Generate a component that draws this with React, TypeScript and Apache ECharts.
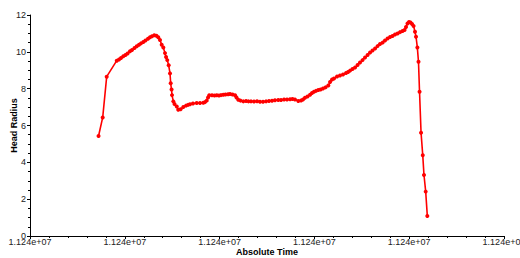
import React, { useEffect, useRef } from "react";
import * as echarts from "echarts";

const baseTime = 11239800;
const timeOffsets = [
  72.3, 76.7, 80.9, 91.5, 93.9, 96.0, 98.4, 100.7, 102.9, 105.5, 107.6, 110.2, 112.6, 115.0, 117.1, 119.5,
  121.8, 124.5, 126.6, 128.7, 131.1, 133.4, 135.3, 137.1, 138.9, 140.6, 142.4, 143.5, 144.8, 146.3, 147.7,
  148.4, 149.3, 149.8, 151.2, 152.4, 154.8, 156.4, 158.8, 161.7, 164.6, 166.7, 168.8, 171.9, 175.8, 179.3,
  182.8, 184.6, 186.4, 187.8, 189.1, 192.0, 194.6, 197.0, 199.4, 201.5, 203.9, 206.2, 208.9, 211.0, 213.6,
  216.3, 217.8, 219.7, 222.1, 225.0, 227.9, 230.5, 233.1, 236.3, 239.5, 242.6, 245.8, 249.0, 252.1, 255.3,
  258.4, 261.9, 264.8, 268.0, 271.1, 274.3, 276.9, 279.5, 283.0, 285.9, 288.0, 290.1, 292.7, 295.4, 297.5,
  299.6, 301.7, 304.1, 306.5, 309.1, 311.7, 314.7, 316.5, 318.6, 320.7, 323.9, 327.0, 330.2, 333.4, 335.5,
  337.6, 340.2, 342.9, 345.5, 348.1, 350.8, 353.4, 356.1, 358.7, 361.3, 364.0, 366.6, 369.2, 371.9, 374.5,
  377.2, 379.8, 382.4, 385.0, 387.7, 390.3, 393.0, 395.1, 396.6, 398.2, 399.8, 401.4, 403.0, 404.6, 406.1,
  407.2, 408.6, 409.8, 410.9, 412.5, 414.3, 415.6, 417.4, 419.1,
];
const headRadius = [
  5.43, 6.44, 8.65, 9.52, 9.58, 9.66, 9.76, 9.83, 9.91, 10.03, 10.10, 10.21, 10.30, 10.38, 10.46, 10.53,
  10.61, 10.71, 10.79, 10.85, 10.90, 10.87, 10.79, 10.64, 10.39, 10.23, 9.93, 9.72, 9.55, 9.27, 8.83,
  8.29, 7.95, 7.65, 7.31, 7.17, 7.03, 6.86, 6.88, 7.01, 7.08, 7.12, 7.15, 7.19, 7.22, 7.22,
  7.24, 7.27, 7.35, 7.52, 7.64, 7.64, 7.63, 7.64, 7.63, 7.65, 7.67, 7.68, 7.70, 7.71, 7.68,
  7.64, 7.52, 7.40, 7.35, 7.31, 7.33, 7.31, 7.31, 7.30, 7.32, 7.29, 7.29, 7.31, 7.33, 7.34,
  7.37, 7.38, 7.38, 7.41, 7.41, 7.42, 7.44, 7.41, 7.33, 7.36, 7.41, 7.51, 7.58, 7.67, 7.76,
  7.83, 7.88, 7.93, 7.95, 8.01, 8.07, 8.17, 8.36, 8.50, 8.55, 8.66, 8.71, 8.77, 8.85, 8.90,
  8.98, 9.07, 9.15, 9.28, 9.42, 9.55, 9.69, 9.83, 9.96, 10.07, 10.18, 10.31, 10.42, 10.50, 10.61,
  10.72, 10.80, 10.86, 10.94, 11.00, 11.07, 11.13, 11.18, 11.35, 11.54, 11.62, 11.59, 11.51, 11.40, 11.09,
  10.82, 10.23, 9.46, 7.83, 5.61, 4.38, 3.31, 2.41, 1.09,
];

const FONT = "Liberation Sans, Arial, sans-serif";

export default function App() {
  const ref = useRef<HTMLDivElement>(null);
  useEffect(() => {
    if (!ref.current) return;
    const chart = echarts.init(ref.current, undefined, { renderer: "svg" });
    const data = timeOffsets.map((o, i) => [baseTime + o, headRadius[i]]);
    const fmt = (v: number) => v.toExponential(3).replace(/e\+(\d)$/, "e+0$1");
    chart.setOption({
      animation: false,
      backgroundColor: "#ffffff",
      grid: { left: 30, right: 16, top: 15, bottom: 22, containLabel: false, outerBoundsMode: "none" },
      xAxis: {
        type: "value",
        min: baseTime,
        max: baseTime + 500,
        interval: 100,
        name: "Absolute Time",
        nameLocation: "middle",
        nameGap: 11,
        nameMoveOverlap: false,
        nameTextStyle: { fontFamily: FONT, fontSize: 9, fontWeight: "bold", color: "#000", verticalAlign: "top" },
        axisLine: { show: true, onZero: false, lineStyle: { color: "#000", width: 1 } },
        axisTick: { show: true, inside: false, length: 3, lineStyle: { color: "#000" } },
        minorTick: { show: true, splitNumber: 5, length: 2, lineStyle: { color: "#000" } },
        splitLine: { show: false },
        axisLabel: { fontFamily: FONT, fontSize: 9, color: "#222", margin: 1, formatter: fmt, showMaxLabel: true, hideOverlap: false },
      },
      yAxis: {
        type: "value",
        min: 0,
        max: 12,
        interval: 2,
        name: "Head Radius",
        nameLocation: "middle",
        nameRotate: 90,
        nameGap: 12,
        nameMoveOverlap: false,
        nameTextStyle: { fontFamily: FONT, fontSize: 9, fontWeight: "bold", color: "#000" },
        axisLine: { show: true, lineStyle: { color: "#000", width: 1 } },
        axisTick: { show: true, inside: false, length: 3, lineStyle: { color: "#000" } },
        minorTick: { show: true, splitNumber: 4, length: 2, lineStyle: { color: "#000" } },
        splitLine: { show: false },
        axisLabel: { fontFamily: FONT, fontSize: 9, color: "#222", margin: 4 },
      },
      series: [
        {
          type: "line",
          data,
          symbol: "circle",
          symbolSize: 4,
          showSymbol: true,
          showAllSymbol: true,
          lineStyle: { color: "#ff0000", width: 1.6 },
          itemStyle: { color: "#ff0000" },
        },
      ],
    });
    return () => chart.dispose();
  }, []);
  return <div ref={ref} style={{ width: 520, height: 258, position: "fixed", left: 0, top: 0 }} />;
}
